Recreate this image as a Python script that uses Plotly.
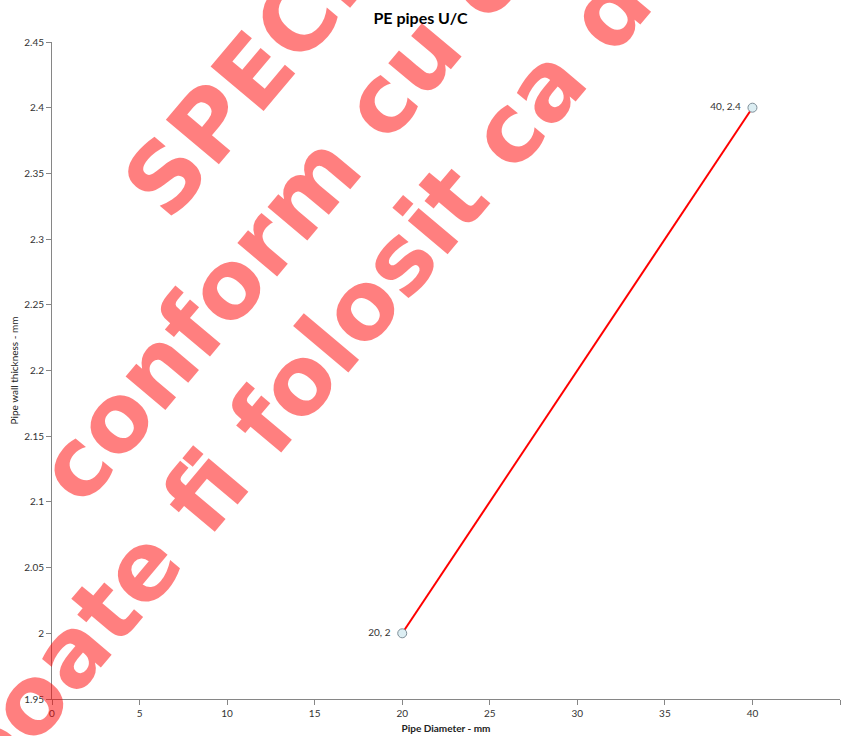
import plotly.graph_objects as go

# data
diameter = [20, 40]          # Pipe Diameter - mm
thickness = [2.0, 2.4]       # Pipe wall thickness - mm
point_labels = [f"{x:g}, {y:g}" for x, y in zip(diameter, thickness)]

x_ticks = [0, 5, 10, 15, 20, 25, 30, 35, 40, 45]
y_ticks = [1.95, 2.0, 2.05, 2.1, 2.15, 2.2, 2.25, 2.3, 2.35, 2.4, 2.45]
y_tick_text = ["1.95", "2", "2.05", "2.1", "2.15", "2.2", "2.25", "2.3", "2.35", "2.4", "2.45"]

# watermark lines (rotated red text over the chart)
watermark_lines = ["SPECIMEN", "conform cu originalul", "poate fi folosit ca document"]
# baseline start of each line, in page pixels
watermark_starts = [(169, 223), (82, 509), (-10, 800)]

W, H = 841, 736
M_L, M_R, M_T, M_B = 52, 1, 42, 37
AX_COLOR = "#868686"
FONT = "Lato"

WM_SIZE = 95
WM_ANGLE = 50
ASC, DESC = 0.928 * WM_SIZE, 0.236 * WM_SIZE


def to_paper(px, py):
    return ((px - M_L) / (W - M_L - M_R), (H - M_B - py) / (H - M_T - M_B))


fig = go.Figure()

fig.add_trace(go.Scatter(
    x=diameter,
    y=thickness,
    mode='lines+markers+text',
    text=[t + "\u00a0\u00a0" for t in point_labels],
    textposition='middle left',
    textfont=dict(family=FONT, size=10, color='#333333'),
    line=dict(color='#FF0000', width=2),
    marker=dict(size=9, color='#DCEEF3', line=dict(color='#7F8F99', width=1)),
    cliponaxis=False,
    showlegend=False
))

# anchor is the left / bottom of the rotated text box
for text, (sx, sy) in zip(watermark_lines, watermark_starts):
    ax_, ay_ = to_paper(sx - 0.766 * ASC, sy + 0.643 * DESC)
    fig.add_annotation(
        text=text, xref='paper', yref='paper', x=ax_, y=ay_,
        xanchor='left', yanchor='bottom', showarrow=False,
        textangle=-WM_ANGLE, borderpad=0, borderwidth=0,
        font=dict(family="DejaVu Sans", size=WM_SIZE, weight='bold',
                  color='rgba(255,0,0,0.5)')
    )

fig.update_layout(
    width=W, height=H,
    margin=dict(l=M_L, r=M_R, t=M_T, b=M_B),
    paper_bgcolor='white',
    plot_bgcolor='white',
    title=dict(text="<b>PE pipes U/C</b>", x=0.5, xanchor='center',
               y=1 - 18 / H, yanchor='middle',
               font=dict(family=FONT, size=16, color='black')),
    xaxis=dict(
        range=[0, 45], tickvals=x_ticks, showgrid=False, zeroline=False,
        showline=True, linecolor=AX_COLOR, linewidth=1, automargin=False,
        ticks='outside', ticklen=5, tickcolor=AX_COLOR,
        tickfont=dict(family=FONT, size=10, color='#333333'),
        title=dict(text="<b>Pipe Diameter - mm</b>", standoff=6,
                   font=dict(family=FONT, size=10, color='#222222'))
    ),
    yaxis=dict(
        range=[1.95, 2.45], tickvals=y_ticks, ticktext=y_tick_text,
        showgrid=False, zeroline=False, automargin=False,
        showline=True, linecolor=AX_COLOR, linewidth=1,
        ticks='outside', ticklen=5, tickcolor=AX_COLOR,
        tickfont=dict(family=FONT, size=10, color='#333333'),
        title=dict(text="Pipe wall thickness - mm", standoff=3,
                   font=dict(family=FONT, size=10, color='#222222'))
    ),
)

# drop the default page margin so the figure sits at the window's corner
fig.write_html("out.html", config={'displayModeBar': False},
               post_script="document.body.style.margin='0px';")
